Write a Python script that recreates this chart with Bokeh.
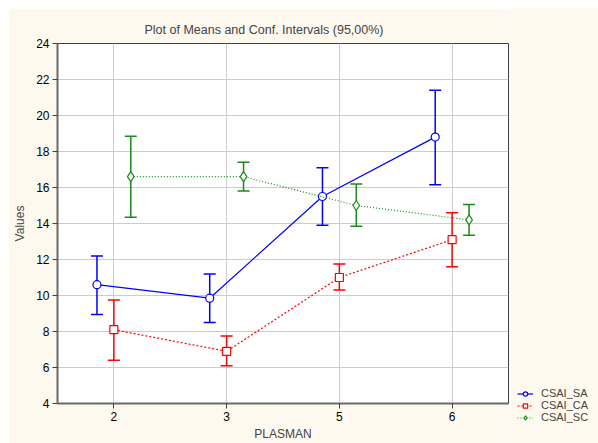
from bokeh.plotting import figure
from bokeh.layouts import row
from bokeh.models import (ColumnDataSource, FactorRange, Range1d, Whisker, TeeHead,
                          Legend, LegendItem, SingleIntervalTicker)
from bokeh.transform import dodge
from bokeh.embed import file_html
from bokeh.resources import INLINE

# ---- data ----
categories = ["2", "3", "5", "6"]
sa_mean = [10.6, 9.85, 15.5, 18.8]
sa_low = [8.95, 8.5, 13.9, 16.15]
sa_high = [12.2, 11.2, 17.1, 21.4]
ca_mean = [8.1, 6.9, 11.0, 13.1]
ca_low = [6.4, 6.1, 10.3, 11.6]
ca_high = [9.75, 7.75, 11.75, 14.6]
sc_mean = [16.6, 16.6, 15.0, 14.2]
sc_low = [14.35, 15.8, 13.85, 13.35]
sc_high = [18.85, 17.4, 16.2, 15.05]
series_names = ["CSAI_SA", "CSAI_CA", "CSAI_SC"]

FONT = "Liberation Sans"
CREAM = "#FEF9EE"

p = figure(width=502, height=435, x_range=FactorRange(*categories), y_range=Range1d(4, 24),
           output_backend="svg", toolbar_location=None,
           background_fill_color="white", border_fill_color=CREAM,
           min_border_left=49, min_border_right=2, min_border_top=35, min_border_bottom=37,
           margin=(8, 0, 0, 8))

p.title.text = "Plot of Means and Conf. Intervals (95,00%)"
p.title.text_font = FONT
p.title.text_font_size = "12.5px"
p.title.text_font_style = "normal"
p.title.align = "left"
p.title.offset = 87
p.title.standoff = 13

p.outline_line_color = "#404040"
p.outline_line_width = 1

for ax in (p.xaxis[0], p.yaxis[0]):
    ax.axis_line_color = "#6a6a6a"
    ax.axis_line_width = 2
    ax.major_tick_line_color = "#404040"
    ax.major_tick_out = 5
    ax.major_tick_in = 0
    ax.minor_tick_line_color = None
    ax.major_label_text_font = FONT
    ax.major_label_text_font_size = "12px"
    ax.major_label_text_color = "black"
    ax.major_label_standoff = 3
    ax.axis_label_text_font = FONT
    ax.axis_label_text_font_size = "12px"
    ax.axis_label_text_font_style = "normal"
    ax.axis_label_standoff = 3

p.yaxis.ticker = SingleIntervalTicker(interval=2)
p.yaxis.axis_label_standoff = 6
p.xaxis.axis_label = "PLASMAN"
p.yaxis.axis_label = "Values"

p.xgrid.grid_line_color = "#cccccc"
p.ygrid.grid_line_color = "#cccccc"

styles = [
    ("#0000ff", -0.15, "solid", "circle", 8),
    ("#ff0000", 0.0, "2 2", "square", 8),
    ("#1a8a1a", 0.15, "1 2", "diamond", 10),
]
data = [(sa_mean, sa_low, sa_high), (ca_mean, ca_low, ca_high), (sc_mean, sc_low, sc_high)]

# legend panel as a small companion figure (its frame is not aligned with the main plot)
lg = figure(width=88, height=435, x_range=Range1d(0, 1), y_range=Range1d(0, 1),
            x_axis_type=None, y_axis_type=None,
            output_backend="svg", toolbar_location=None, min_border=0,
            min_border_left=0, min_border_right=0, min_border_top=0, min_border_bottom=0,
            background_fill_color=CREAM, border_fill_color=CREAM, outline_line_color=None,
            margin=(8, 0, 0, 0))
lg.frame_align = False
lg.grid.visible = False

items = []
for name, (mean, low, high), (color, off, dash, marker, size) in zip(series_names, data, styles):
    src = ColumnDataSource(dict(x=categories, mean=mean, low=low, high=high))
    xd = dodge("x", off, range=p.x_range)
    w = Whisker(source=src, base=xd, upper="high", lower="low", dimension="height",
                line_color=color, line_width=1.5,
                upper_head=TeeHead(size=12, line_color=color, line_width=1.5),
                lower_head=TeeHead(size=12, line_color=color, line_width=1.5))
    p.add_layout(w)
    p.line(x=xd, y="mean", source=src, line_color=color, line_width=1.2, line_dash=dash)
    p.scatter(x=xd, y="mean", source=src, marker=marker, size=size,
              line_color=color, fill_color="white", line_width=1.2)
    # legend proxies: same series, drawn outside the legend figure's visible range
    psrc = ColumnDataSource(dict(x=list(range(len(categories))), y=mean))
    l2 = lg.line(x="x", y="y", source=psrc, line_color=color, line_width=1.2, line_dash=dash)
    m2 = lg.scatter(x="x", y="y", source=psrc, marker=marker, size=size - 1,
                    line_color=color, fill_color="white", line_width=1.2)
    items.append(LegendItem(label=name, renderers=[l2, m2], index=0))

legend = Legend(items=items, location=(7, 20), orientation="vertical",
                glyph_width=16, glyph_height=11, spacing=0, padding=0, margin=0,
                label_standoff=8, label_text_font=FONT, label_text_font_size="11px",
                label_height=11, border_line_color=None, background_fill_alpha=0)
lg.add_layout(legend, "center")

layout = row(p, lg, spacing=0)
open("out.html", "w").write(file_html(layout, INLINE))
